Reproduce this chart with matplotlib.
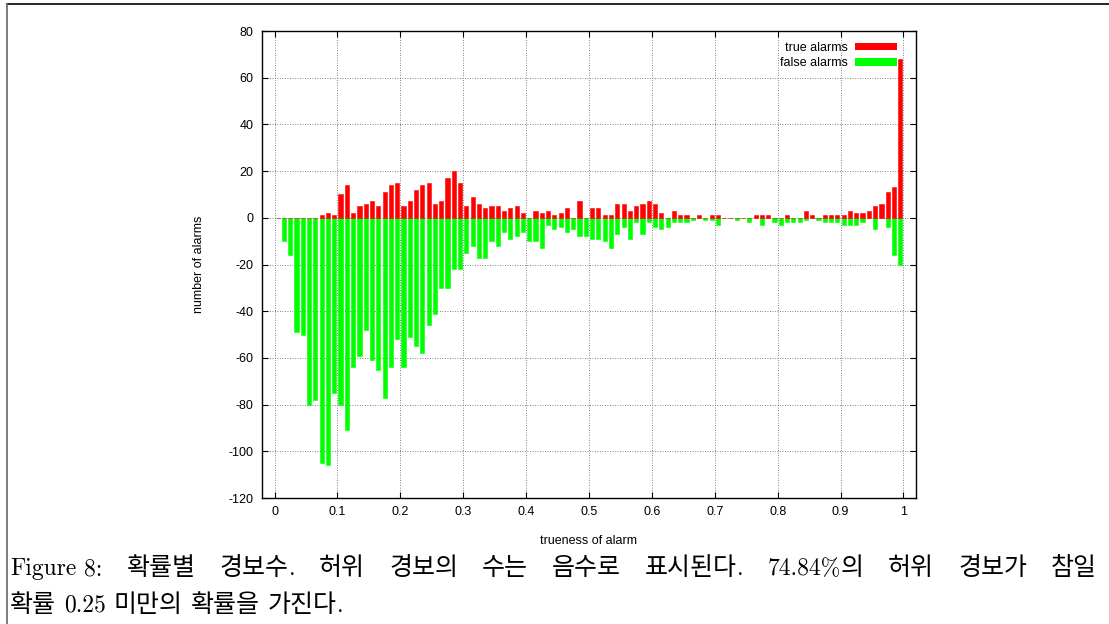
import re

import numpy as np

import matplotlib
matplotlib.use("Agg")

import matplotlib.pyplot as plt
from matplotlib.lines import Line2D
from matplotlib.patches import Patch


# alarm counts per trueness bin (bins of width 0.01, centred on 0.005 ... 0.995)
bin_centers = np.arange(100) * 0.01 + 0.005

true_alarms = [
    0, 0, 0, 0, 0, 0, 0, 1, 2, 1,
    10, 14, 2, 5, 6, 7, 5, 11, 14, 15,
    5, 7, 12, 14, 15, 6, 7, 17, 20, 15,
    5, 9, 6, 4, 5, 5, 3, 4, 5, 2,
    0, 3, 2, 3, 1, 2, 4, 0, 7, 0,
    4, 4, 1, 1, 6, 6, 3, 5, 6, 7,
    6, 2, 0, 3, 1, 1, 0, 1, 0, 1,
    1, 0, 0, 0, 0, 0, 1, 1, 1, 0,
    0, 1, 0, 0, 3, 1, 0, 1, 1, 1,
    1, 3, 2, 2, 3, 5, 6, 11, 13, 68,
]

# false alarms are counted negative
false_alarms = [
    0, -10, -16, -49, -50, -80, -78, -105, -106, -75,
    -80, -91, -64, -59, -48, -61, -65, -77, -64, -52,
    -64, -51, -55, -58, -46, -41, -30, -30, -22, -22,
    -15, -12, -17, -17, -10, -12, -6, -9, -8, -6,
    -10, -10, -13, -3, -5, -4, -6, -5, -8, -8,
    -9, -9, -10, -13, -7, -4, -9, -2, -7, -2,
    -4, -5, -4, -2, -2, -2, -1, 0, -1, -1,
    -3, 0, 0, -1, 0, -2, 0, -3, 0, -2,
    -3, -2, -2, -2, -1, 0, -1, -2, -2, -2,
    -3, -3, -3, -2, 0, -5, 0, -4, -16, -20,
]

x_ticks = [0, 0.1, 0.2, 0.3, 0.4, 0.5, 0.6, 0.7, 0.8, 0.9, 1]
x_tick_labels = ["0", "0.1", "0.2", "0.3", "0.4", "0.5", "0.6", "0.7", "0.8", "0.9", "1"]
y_ticks = [-120, -100, -80, -60, -40, -20, 0, 20, 40, 60, 80]

# "~" keeps two pieces together with a plain interword space
caption_line1 = "Figure~8: 확률별 경보수. 허위 경보의 수는 음수로 표시된다. 74.84%의 허위 경보가 참일"
caption_line2 = "확률 0.25 미만의 확률을 가진다."

plt.rcParams["font.family"] = ["Liberation Sans", "DejaVu Sans"]
plt.rcParams["axes.unicode_minus"] = False

fig = plt.figure(figsize=(11.09, 6.24), dpi=100)
ax = fig.add_axes([0.2362, 0.2019, 0.5898, 0.7484])

bar_w = 0.0066
ax.bar(bin_centers, false_alarms, width=bar_w, color="#00ff00",
       edgecolor="#00ff00", linewidth=0.4, zorder=3)
ax.bar(bin_centers, true_alarms, width=bar_w, color="#ff0000",
       edgecolor="#ff0000", linewidth=0.4, zorder=3)

ax.set_xlim(-0.02, 1.02)
ax.set_ylim(-120, 80)
ax.set_xticks(x_ticks)
ax.set_xticklabels(x_tick_labels)
ax.set_yticks(y_ticks)

ax.tick_params(direction="in", length=4.5, width=0.8, top=True, right=True,
               labelsize=9, pad=6, colors="black")
ax.grid(True, linestyle=(0, (1, 2)), color="0.35", linewidth=0.6, zorder=0)
for spine in ax.spines.values():
    spine.set_linewidth(1.0)

ax.set_xlabel("trueness of alarm", fontsize=9)
ax.set_ylabel("number of alarms", fontsize=9)
ax.xaxis.set_label_coords(0.5, -0.079)
ax.yaxis.set_label_coords(-0.087, 0.5)

handles = [Patch(facecolor="#ff0000", edgecolor="none"),
           Patch(facecolor="#00ff00", edgecolor="none")]
ax.legend(handles, ["true alarms", "false alarms"], loc="upper right",
          bbox_to_anchor=(0.985, 0.995), frameon=False, markerfirst=False,
          fontsize=9, handlelength=3.4, handleheight=0.55,
          labelspacing=0.25, handletextpad=0.6, borderaxespad=0.3)

# page frame around the figure
fig.add_artist(Line2D([0.0063, 1.0], [0.9928, 0.9928], color="black",
                      linewidth=1.2, transform=fig.transFigure))
fig.add_artist(Line2D([0.0063, 0.0063], [0.0, 0.9928], color="0.4",
                      linewidth=1.2, transform=fig.transFigure))

# caption: Latin in Computer Modern, Hangul in a CJK face, set word by word
fig_w = fig.get_figwidth() * fig.dpi
renderer = fig.canvas.get_renderer()
HANGUL = re.compile(r"([\uac00-\ud7a3]+)")
LATIN_SIZE = 17
HANGUL_SIZE = 18
SPACE = 8


def place_word(word, y):
    """Create the text runs of one word at x=0, return them with their advances."""
    runs = []
    pieces = word.split("~")
    for i, piece in enumerate(pieces):
        for part in HANGUL.split(piece):
            if not part:
                continue
            if HANGUL.fullmatch(part):
                t = fig.text(0, y, part, fontsize=HANGUL_SIZE, fontweight="light",
                             family=["Noto Sans CJK KR"], va="baseline", ha="left")
            else:
                t = fig.text(0, y, part, fontsize=LATIN_SIZE,
                             family=["cmr10", "DejaVu Serif"], va="baseline", ha="left")
            runs.append([t, t.get_window_extent(renderer).width])
        if i < len(pieces) - 1:
            runs[-1][1] += SPACE
    return runs, sum(w for _, w in runs)


def set_line(text, y, left, right=None):
    words = [place_word(w, y) for w in text.split(" ")]
    total = sum(w for _, w in words)
    gap = SPACE if right is None else (right - left - total) / (len(words) - 1)
    x = left
    for runs, width in words:
        for t, w in runs:
            t.set_x(x / fig_w)
            x += w
        x += gap


set_line(caption_line1, 0.0785, 10, right=1097)
set_line(caption_line2, 0.0200, 10)

fig.savefig("out.png", dpi=100)
